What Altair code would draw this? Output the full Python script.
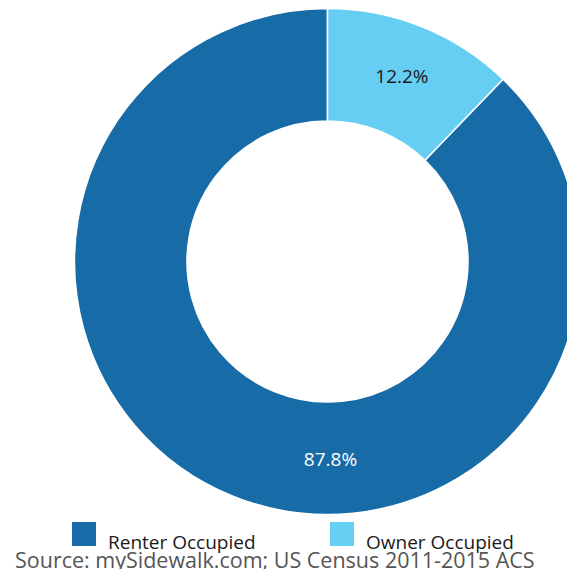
import altair as alt
import pandas as pd

categories = ["Renter Occupied", "Owner Occupied"]
shares = [87.8, 12.2]
labels = ["87.8%", "12.2%"]
colors = ["#176ba6", "#66cdf3"]
source_text = "Source: mySidewalk.com; US Census 2011-2015 ACS"

df = pd.DataFrame({"category": categories, "share": shares, "label": labels})

W, H = 559, 561
CX, CY = 319.5, 253.5
R_OUT, R_IN = 253, 140.5
FONT = "Open Sans"

base = alt.Chart(df)

arcs = base.mark_arc(radius=R_OUT, radius2=R_IN, stroke="white", strokeWidth=1.5).encode(
    theta=alt.Theta("share:Q", stack=True),
    order=alt.Order("share:Q", sort="ascending"),
    color=alt.Color(
        "category:N",
        scale=alt.Scale(domain=categories, range=colors),
        legend=alt.Legend(
            orient="none", legendX=64, legendY=514, direction="horizontal",
            title=None, symbolType="square", symbolSize=576, symbolStrokeWidth=0,
            symbolOpacity=1, labelFont=FONT, labelFontSize=19, labelColor="#1a1a1a",
            labelOffset=12, columnPadding=74, labelLimit=300,
            labelBaseline="top",
        ),
    ),
    x=alt.value(CX),
    y=alt.value(CY),
)

owner_label = base.mark_text(radius=199, font=FONT, fontSize=19, color="#1a1a1a", baseline="middle").encode(
    theta=alt.Theta("share:Q", stack=True),
    order=alt.Order("share:Q", sort="ascending"),
    text="label:N",
    opacity=alt.condition(alt.datum.category == "Owner Occupied", alt.value(1), alt.value(0)),
    x=alt.value(CX),
    y=alt.value(CY),
)

renter_label = base.transform_filter(alt.datum.category == "Renter Occupied").mark_text(
    font=FONT, fontSize=19, color="white", baseline="middle", align="center"
).encode(text="label:N", x=alt.value(322.5), y=alt.value(452))

source = alt.Chart(pd.DataFrame({"t": [source_text]})).mark_text(
    font=FONT, fontSize=21.5, color="#555555", align="left", baseline="alphabetic"
).encode(text="t:N", x=alt.value(7), y=alt.value(560))

chart = alt.layer(arcs, owner_label, renter_label, source).properties(
    width=W, height=H, padding=0, autosize=alt.AutoSizeParams(type="none")
).configure_view(stroke=None)

chart.save("out.html", embed_options={"renderer": "svg", "actions": False})
